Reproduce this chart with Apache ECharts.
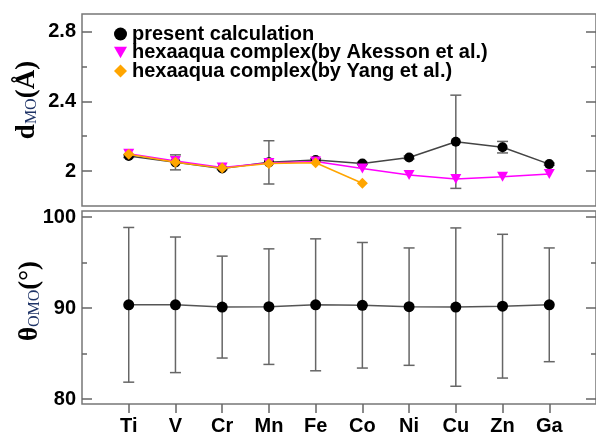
<!DOCTYPE html>
<html><head><meta charset="utf-8">
<script src="https://cdn.jsdelivr.net/npm/echarts@6/dist/echarts.min.js"></script>
<style>html,body{margin:0;padding:0;background:#fff}#c{width:596px;height:436px}</style>
</head><body><div id="c"></div>
<script>
const categories = ['Ti','V','Cr','Mn','Fe','Co','Ni','Cu','Zn','Ga'];
const dPresent = [2.086, 2.05, 2.015, 2.05, 2.063, 2.044, 2.078, 2.168, 2.137, 2.04];
const dPresentErr = [0.008, 0.043, 0.006, 0.124, 0.008, 0.006, 0.008, 0.267, 0.033, 0.006];
const dAkesson = [2.10, 2.058, 2.02, 2.046, 2.055, 2.015, 1.977, 1.954, 1.967, 1.983];
const dYang = [2.097, 2.05, 2.017, 2.044, 2.048, 1.93];
const thetaPresent = [90.35, 90.35, 90.1, 90.15, 90.35, 90.3, 90.15, 90.1, 90.2, 90.35];
const thetaErr = [8.5, 7.45, 5.6, 6.35, 7.25, 6.9, 6.45, 8.7, 7.9, 6.25];
const dTicks = [2.0, 2.4, 2.8];
const dMinorTicks = [2.2, 2.6];
const thetaTicks = [80, 90, 100];
const thetaMinorTicks = [85, 95];
const legendNames = ['present calculation', 'hexaaqua complex(by Akesson et al.)', 'hexaaqua complex(by Yang et al.)'];

const xPos = categories.map((c, i) => i + 1);
const FONT = "'Liberation Sans', Arial, Helvetica, sans-serif";
const SERIF = "'Liberation Serif', 'Times New Roman', serif";
const GRAY = '#666';

function pts(vals) { return vals.map((v, i) => [xPos[i], v]); }
function errPts(vals, errs) { return vals.map((v, i) => [xPos[i], v, errs[i]]); }

function errRender(params, api) {
  const x = api.value(0), y = api.value(1), e = api.value(2);
  const t = api.coord([x, y + e]);
  const b = api.coord([x, y - e]);
  const hw = 5.5;
  const st = { stroke: GRAY, lineWidth: 1.5 };
  return { type: 'group', children: [
    { type: 'line', shape: { x1: t[0], y1: t[1], x2: b[0], y2: b[1] }, style: st },
    { type: 'line', shape: { x1: t[0] - hw, y1: t[1], x2: t[0] + hw, y2: t[1] }, style: st },
    { type: 'line', shape: { x1: b[0] - hw, y1: b[1], x2: b[0] + hw, y2: b[1] }, style: st }
  ]};
}

function yAx(grid, min, max, pos, ticks, len, labels) {
  return {
    type: 'value', gridIndex: grid, min: min, max: max, position: pos,
    axisLine: { show: false },
    splitLine: { show: false },
    axisTick: { show: true, inside: true, length: len, customValues: ticks, lineStyle: { color: GRAY, width: 1.5 } },
    axisLabel: labels ? { show: true, customValues: ticks, margin: 6, color: '#000', fontSize: 20, fontWeight: 'bold', fontFamily: FONT,
      formatter: v => String(Math.round(v * 10) / 10) } : { show: false }
  };
}

const titleRich = {
  m: { fontFamily: SERIF, fontSize: 27, fontWeight: 'bold', lineHeight: 26, verticalAlign: 'top', fill: '#000' },
  s: { fontFamily: SERIF, fontSize: 16, lineHeight: 16, verticalAlign: 'bottom', padding: [18, 0, 0, 0], fill: '#1e3366' }
};

const chart = echarts.init(document.getElementById('c'), null, { renderer: 'canvas' });
chart.setOption({
  animation: false,
  backgroundColor: '#fff',
  grid: [
    { left: 82, top: 14, width: 516, height: 192, show: true, borderColor: '#777', borderWidth: 1.5 },
    { left: 82, top: 211, width: 516, height: 193, show: true, borderColor: '#777', borderWidth: 1.5 }
  ],
  xAxis: [
    { type: 'value', gridIndex: 0, min: 0, max: 11, axisLine: { show: false, onZero: false }, axisTick: { show: false }, axisLabel: { show: false }, splitLine: { show: false } },
    { type: 'value', gridIndex: 1, min: 0, max: 11, axisLine: { show: false, onZero: false }, splitLine: { show: false },
      axisTick: { show: true, inside: false, length: 9, customValues: xPos, lineStyle: { color: GRAY, width: 1.5 } },
      axisLabel: { show: true, customValues: xPos, margin: 12, color: '#000', fontSize: 20, fontWeight: 'bold', fontFamily: FONT,
        formatter: v => categories[Math.round(v) - 1] || '' } }
  ],
  yAxis: [
    yAx(0, 1.8, 2.9, 'left', dTicks, 10, true),
    yAx(0, 1.8, 2.9, 'left', dMinorTicks, 5, false),
    yAx(0, 1.8, 2.9, 'right', dTicks, 10, false),
    yAx(0, 1.8, 2.9, 'right', dMinorTicks, 5, false),
    yAx(1, 79.45, 100.66, 'left', thetaTicks, 10, true),
    yAx(1, 79.45, 100.66, 'left', thetaMinorTicks, 5, false),
    yAx(1, 79.45, 100.66, 'right', thetaTicks, 10, false),
    yAx(1, 79.45, 100.66, 'right', thetaMinorTicks, 5, false)
  ],
  legend: {
    orient: 'vertical', left: 109, top: 19, itemWidth: 13, itemHeight: 13, itemGap: -1.5,
    textStyle: { color: '#000', fontSize: 20, lineHeight: 18.5, fontWeight: 'bold', fontFamily: FONT },
    data: [
      { name: legendNames[0], icon: 'circle' },
      { name: legendNames[1], icon: 'path://M0,0L10,0L5,9Z' },
      { name: legendNames[2], icon: 'diamond' }
    ]
  },
  graphic: [
    { type: 'text', x: 27, y: 100, rotation: Math.PI / 2, z: 10,
      style: { text: '{m|d}{s|MO}{m|(Å)}', align: 'center', verticalAlign: 'middle', rich: titleRich } },
    { type: 'text', x: 30, y: 301, rotation: Math.PI / 2, z: 10,
      style: { text: '{m|θ}{s|OMO}{m|(°)}', align: 'center', verticalAlign: 'middle', rich: titleRich } }
  ],
  series: [
    { type: 'custom', name: 'errTop', xAxisIndex: 0, yAxisIndex: 0, z: 1, renderItem: errRender, encode: { x: 0, y: 1 }, data: errPts(dPresent, dPresentErr) },
    { type: 'line', name: legendNames[0], xAxisIndex: 0, yAxisIndex: 0, z: 2, data: pts(dPresent),
      symbol: 'circle', symbolSize: 10, itemStyle: { color: '#000' }, lineStyle: { color: '#444', width: 1.5 } },
    { type: 'line', name: legendNames[1], xAxisIndex: 0, yAxisIndex: 0, z: 3, data: pts(dAkesson),
      symbol: 'triangle', symbolRotate: 180, symbolSize: [11, 10], itemStyle: { color: '#ff00ff' }, lineStyle: { color: '#ff00ff', width: 1.5 } },
    { type: 'line', name: legendNames[2], xAxisIndex: 0, yAxisIndex: 0, z: 4, data: pts(dYang),
      symbol: 'diamond', symbolSize: 11, itemStyle: { color: '#ffa500' }, lineStyle: { color: '#ffa500', width: 1.5 } },
    { type: 'custom', name: 'errBottom', xAxisIndex: 1, yAxisIndex: 4, z: 1, renderItem: errRender, encode: { x: 0, y: 1 }, data: errPts(thetaPresent, thetaErr) },
    { type: 'line', name: 'theta', xAxisIndex: 1, yAxisIndex: 4, z: 2, data: pts(thetaPresent),
      symbol: 'circle', symbolSize: 11, itemStyle: { color: '#000' }, lineStyle: { color: '#555', width: 1.5 } }
  ]
});
</script></body></html>
